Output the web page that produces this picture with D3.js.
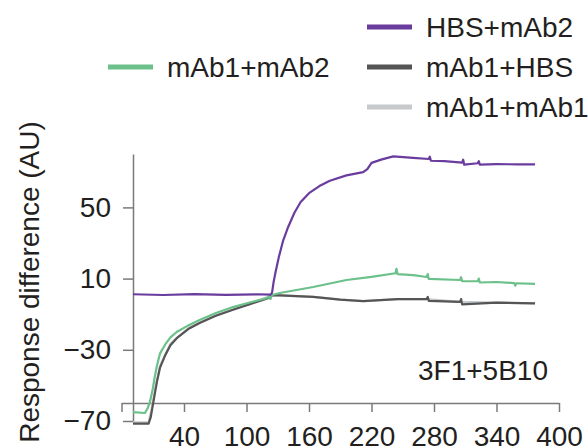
<!DOCTYPE html>
<html>
<head>
<meta charset="utf-8">
<script src="https://cdn.jsdelivr.net/npm/d3@7"></script>
<style>
    body { margin: 0; background: #fff; }
    text { font-family: "Liberation Sans", Arial, sans-serif; fill: #231f20; }
</style>
</head>
<body>
<script>
// time (s) and response difference (AU) pairs
var hbsMab2 = [[-9,1.2],[20,0.8],[50,1.3],[80,0.9],[110,1.2],[123,1.0],[124.5,2],[126,8],
        [128,14],[131,22],[135,31],[140,39],[146,47],[152,53],[160,58],[170,62],[180,65],
        [196,68],[212,69.8],[216,71.5],[220,75],[230,77],[241,78.7],[260,77.8],[275,77.2],
        [276,78.5],[277,76.2],[290,76],[307,75.2],[308,76.8],[309,74],[322,74.8],[323,76],
        [324,74],[340,74.3],[360,74.2],[377,74.2]],
    mab1Mab2 = [[-9,-65],[2.5,-65.5],[5,-63],[7.4,-59],[10,-52],[12,-45],[14,-39],[17,-32],
        [22,-27],[27,-23],[33,-20],[45,-16],[55,-13.3],[70,-9.5],[87,-6],[104,-3.3],
        [120,-0.9],[122,0],[123,-1.5],[124.5,0.8],[132,1.9],[148,3.6],[164,5.3],[196,9.2],
        [220,11],[243,13],[244,15.5],[245,12.5],[260,12],[273,10.9],[274,12.5],[275,9.8],
        [305,9.2],[306,10.8],[307,8.5],[322,8.6],[323,10],[324,7.8],[340,8.1],[357,7.5],
        [358,6],[359,7.4],[377,7]],
    mab1Hbs = [[-9,-71.5],[6,-71.5],[8,-68],[11,-58],[14,-48],[17,-40],[22,-33],[27,-27.5],
        [33,-23.5],[45,-18],[55,-15],[70,-11],[87,-7.5],[104,-4.2],[120,-1.2],[124.5,0.6],
        [132,0.6],[164,-0.3],[190,-1.8],[212,-2.6],[245,-1.5],[273,-1.5],[274,-0.3],
        [275,-2.5],[305,-3.1],[306,-1.5],[307,-4.5],[340,-3.5],[377,-3.9]],
    mab1Mab1 = [[-9,-70.8],[6,-70.8],[9,-63],[13,-50],[17,-39],[27,-26.5],[45,-17.5],
        [70,-10.8],[104,-4],[124.5,0.6],[132,0.6],[164,-0.3],[190,-1.8],[212,-2.6],
        [245,-1.5],[273,-1.5],[305,-3.1],[340,-3.5],[377,-3.9]];

var xTicks = [-20, 40, 100, 160, 220, 280, 340, 400],
    yTicks = [-70, -30, 10, 50],
    seriesNames = ["mAb1+mAb2", "HBS+mAb2", "mAb1+HBS", "mAb1+mAb1"],
    seriesColors = ["#6cc08a", "#6a3c9e", "#555555", "#c6cacd"];

var width = 588,
    height = 447;

var svg = d3.select("body").append("svg")
    .attr("width", width)
    .attr("height", height);

// scales
var x = d3.scaleLinear().domain([-20, 400]).range([121.5, 559]);
var y = d3.scaleLinear().domain([-70, 80]).range([421, 154]);

// y axis
var yAxis = svg.append("g")
    .attr("transform", "translate(133,0)")
    .call(d3.axisLeft(y).tickValues(yTicks).tickSize(10).tickSizeOuter(0).tickPadding(12));

// x axis, shifted up from the bottom of the y axis
var xAxis = svg.append("g")
    .attr("transform", "translate(0,403)")
    .call(d3.axisBottom(x).tickValues(xTicks).tickSize(9).tickSizeOuter(0).tickPadding(14)
        .tickFormat(function(d) { return d < 0 ? "" : d; }));

[yAxis, xAxis].forEach(function(a) {
    a.selectAll("path, line").attr("stroke", "#7a7a7a").attr("stroke-width", 1.5);
    a.selectAll("text").style("font-size", "28px").attr("fill", "#231f20");
});
yAxis.selectAll("text").text(function(d) { return d < 0 ? "\u2212" + Math.abs(d) : d; });

// y axis label
svg.append("text")
    .attr("transform", "translate(39,282) rotate(-90)")
    .style("text-anchor", "middle")
    .style("font-size", "28px")
    .text("Response difference (AU)");

// lines, drawn back to front
var line = d3.line()
    .x(function(d) { return x(d[0]); })
    .y(function(d) { return y(d[1]); });

var drawOrder = [[mab1Mab1, 3], [mab1Hbs, 2], [mab1Mab2, 0], [hbsMab2, 1]];
drawOrder.forEach(function(s) {
    svg.append("path")
        .datum(s[0])
        .attr("d", line)
        .attr("fill", "none")
        .attr("stroke", seriesColors[s[1]])
        .attr("stroke-width", 2.2)
        .attr("stroke-linejoin", "round");
});

// panel label
svg.append("text")
    .attr("x", 418)
    .attr("y", 380)
    .style("font-size", "28px")
    .text("3F1+5B10");

// legend: one entry left, three stacked on the right
var legendPos = [[108, 67], [367, 27], [367, 67], [367, 107]];
var legend = svg.selectAll(".legend")
    .data(seriesNames)
    .enter().append("g")
    .attr("class", "legend")
    .attr("transform", function(d, i) { return "translate(" + legendPos[i][0] + "," + legendPos[i][1] + ")"; });

legend.append("line")
    .attr("x1", 0)
    .attr("x2", 45)
    .attr("stroke", function(d, i) { return seriesColors[i]; })
    .attr("stroke-width", 5);

legend.append("text")
    .attr("x", 59)
    .attr("y", 10)
    .style("font-size", "28px")
    .text(function(d) { return d; });
</script>
</body>
</html>
